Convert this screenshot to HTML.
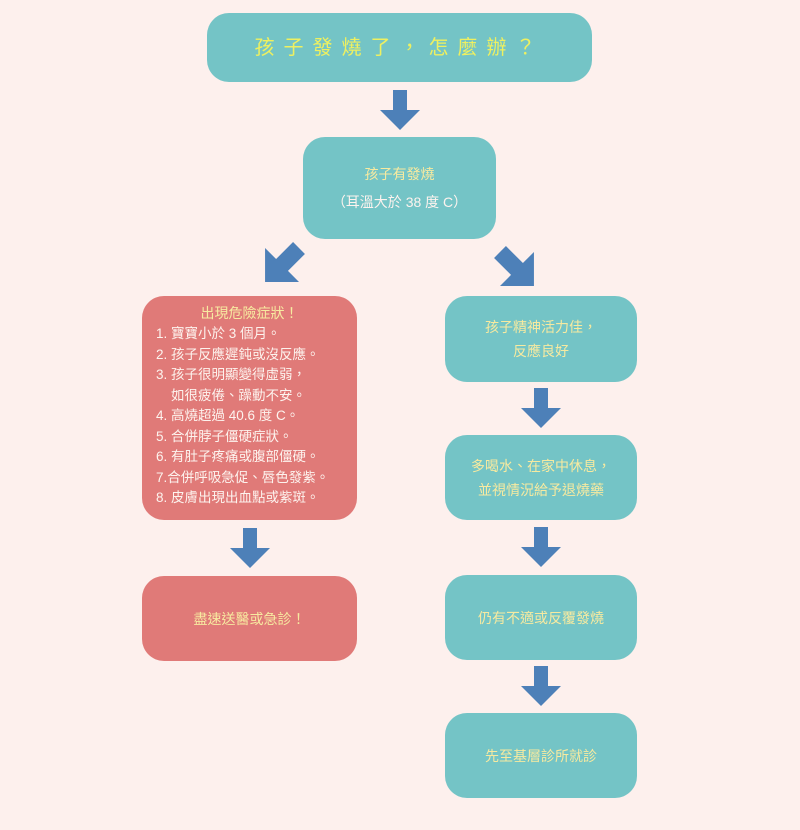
<!DOCTYPE html>
<html><head><meta charset="utf-8"><style>
body{margin:0;width:800px;height:830px;background:#fdf0ed;position:relative;overflow:hidden;font-family:"Liberation Sans","Noto Sans CJK TC",sans-serif}
.b{position:absolute;border-radius:22px;background:#74c4c6;display:flex;flex-direction:column;align-items:center;justify-content:center;text-align:center;color:#f7eaa0;font-size:14px;line-height:24px}
.r{background:#e07a78}
.w{color:#fdf3ee}
svg{position:absolute;left:0;top:0}
</style></head><body>
<div class="b" style="left:207px;top:13px;width:385px;height:69px;color:#eef060;font-size:20px;letter-spacing:9px">孩子發燒了，怎麼辦？</div>
<div class="b" style="left:303px;top:137px;width:193px;height:102px;line-height:28px"><div>孩子有發燒</div><div class="w">（耳溫大於 38 度 C）</div></div>
<div class="b r" style="left:142px;top:296px;width:215px;height:224px;display:block;text-align:left;padding-top:6px;box-sizing:border-box">
<div style="text-align:center;line-height:22px">出現危險症狀！</div>
<div class="w" style="padding-left:14px;line-height:20.5px;font-size:13.5px">1. 寶寶小於 3 個月。<br>2. 孩子反應遲鈍或沒反應。<br>3. 孩子很明顯變得虛弱，<br>&nbsp;&nbsp;&nbsp;&nbsp;如很疲倦、躁動不安。<br>4. 高燒超過 40.6 度 C。<br>5. 合併脖子僵硬症狀。<br>6. 有肚子疼痛或腹部僵硬。<br>7.合併呼吸急促、唇色發紫。<br>8. 皮膚出現出血點或紫斑。</div></div>
<div class="b r" style="left:142px;top:576px;width:215px;height:85px">盡速送醫或急診！</div>
<div class="b" style="left:445px;top:296px;width:192px;height:86px">孩子精神活力佳，<br>反應良好</div>
<div class="b" style="left:445px;top:435px;width:192px;height:85px">多喝水、在家中休息，<br>並視情況給予退燒藥</div>
<div class="b" style="left:445px;top:575px;width:192px;height:85px">仍有不適或反覆發燒</div>
<div class="b" style="left:445px;top:713px;width:192px;height:85px">先至基層診所就診</div>
<svg width="800" height="830" fill="#4d80b8">
<defs><path id="a" d="M-7 0H7V20H20L0 40L-20 20H-7Z"/></defs>
<use href="#a" transform="translate(400,90)"/>
<use href="#a" transform="translate(250,528)"/>
<use href="#a" transform="translate(541,388)"/>
<use href="#a" transform="translate(541,527)"/>
<use href="#a" transform="translate(541,666)"/>
<use href="#a" transform="translate(299,248) rotate(45) scale(1.2)"/>
<use href="#a" transform="translate(500,252) rotate(-45) scale(1.2)"/>
</svg>
</body></html>
